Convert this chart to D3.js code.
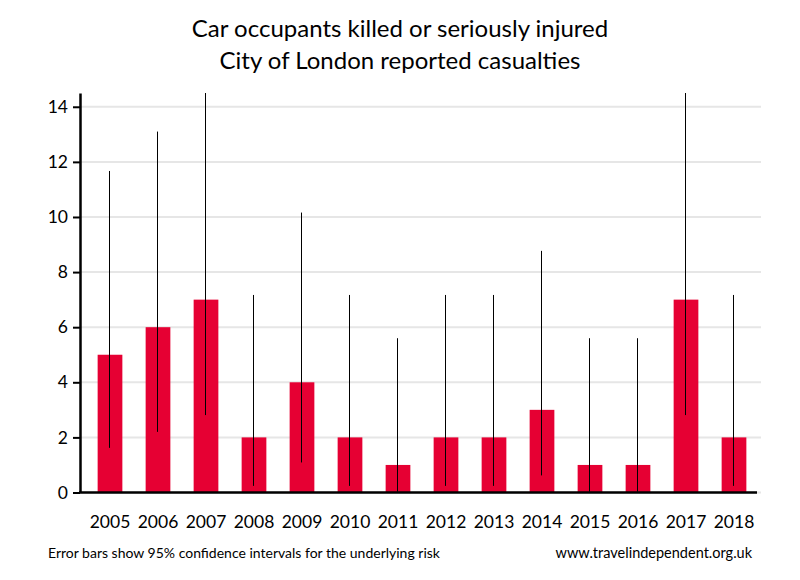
<!DOCTYPE html>
<html><head><meta charset="utf-8">
<script src="https://cdn.jsdelivr.net/npm/d3@7"></script>
<style>body{margin:0;background:#fff}svg{display:block}</style>
</head><body>
<svg id="c" width="800" height="580"></svg>
<script>
const years = ["2005","2006","2007","2008","2009","2010","2011","2012","2013","2014","2015","2016","2017","2018"];
const casualties = [5,6,7,2,4,2,1,2,2,3,1,1,7,2];
const ciLower = [1.62,2.20,2.81,0.24,1.09,0.24,0.03,0.24,0.24,0.62,0.03,0.03,2.81,0.24];
const ciUpper = [11.67,13.1,14.5,7.17,10.16,7.17,5.6,7.17,7.17,8.77,5.6,5.6,14.5,7.17];
const yTicks = [0,2,4,6,8,10,12,14];

const svg = d3.select("#c");
const font = "Lato, 'Open Sans', sans-serif";
const x = d3.scaleBand().domain(years).range([86,758]).paddingInner(0.485).paddingOuter(0.2425);
const y = d3.scaleLinear().domain([0,14.5]).range([492.5,93]);

// gridlines
svg.append("g").selectAll("line").data(yTicks).join("line")
  .attr("x1",80).attr("x2",761).attr("y1",d=>y(d)).attr("y2",d=>y(d))
  .attr("stroke","#e6e6e6").attr("stroke-width",2);

// bars
svg.append("g").selectAll("rect").data(years).join("rect")
  .attr("x",d=>x(d)).attr("width",x.bandwidth())
  .attr("y",(d,i)=>y(casualties[i])).attr("height",(d,i)=>y(0)-y(casualties[i]))
  .attr("fill","#e60033");

// error bars
svg.append("g").selectAll("line").data(years).join("line")
  .attr("x1",d=>Math.round(x(d)+x.bandwidth()/2)-0.5).attr("x2",d=>Math.round(x(d)+x.bandwidth()/2)-0.5)
  .attr("y1",(d,i)=>y(ciLower[i])).attr("y2",(d,i)=>y(Math.min(ciUpper[i],14.5)))
  .attr("stroke","#000").attr("stroke-width",1);

// y axis
const ya = svg.append("g").attr("transform","translate(80,0)")
  .call(d3.axisLeft(y).tickValues(yTicks).tickSize(7).tickPadding(5).tickSizeOuter(0));
ya.select(".domain").attr("stroke","#000").attr("stroke-width",2.5);
ya.selectAll(".tick line").attr("stroke","#000").attr("stroke-width",2);
ya.selectAll("text").attr("font-family",font).attr("font-size",17.5).attr("fill","#000");

// x axis
svg.append("line").attr("x1",79).attr("x2",757).attr("y1",y(0)).attr("y2",y(0))
  .attr("stroke","#000").attr("stroke-width",2.5);
svg.append("g").selectAll("text").data(years).join("text")
  .attr("x",d=>x(d)+x.bandwidth()/2).attr("y",528).attr("text-anchor","middle")
  .attr("font-family",font).attr("font-size",17.5).attr("fill","#000").text(d=>d);

// titles
svg.append("text").attr("x",400).attr("y",37).attr("text-anchor","middle")
  .attr("font-family",font).attr("font-size",24).text("Car occupants killed or seriously injured");
svg.append("text").attr("x",400).attr("y",69).attr("text-anchor","middle")
  .attr("font-family",font).attr("font-size",24).text("City of London reported casualties");

// footer
svg.append("text").attr("x",48).attr("y",558).attr("font-family",font).attr("font-size",14)
  .text("Error bars show 95% confidence intervals for the underlying risk");
svg.append("text").attr("x",752).attr("y",558).attr("text-anchor","end").attr("font-family",font).attr("font-size",14.5)
  .text("www.travelindependent.org.uk");
</script>
</body></html>
